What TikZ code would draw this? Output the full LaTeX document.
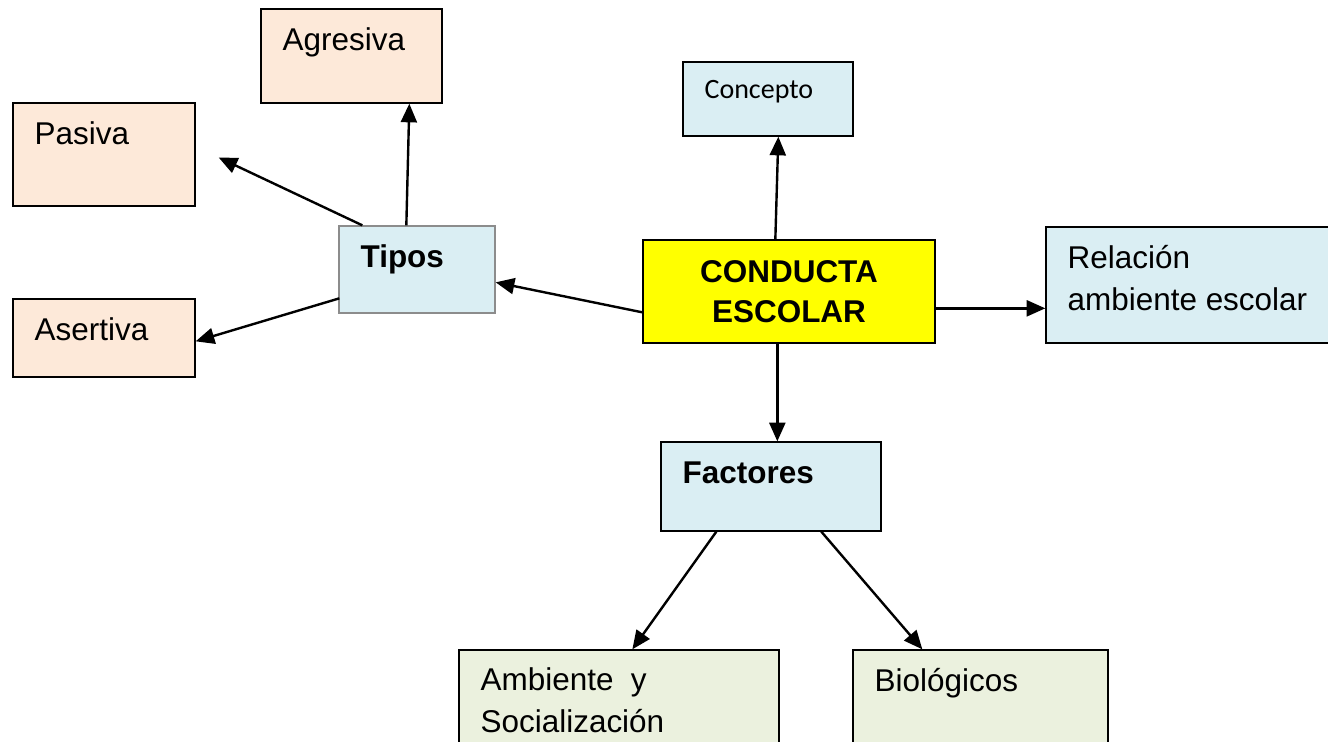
\documentclass[tikz,border=0pt]{standalone}
\usepackage{fontspec}
\setmainfont{Liberation Sans}
\newfontfamily\calibri{Carlito}
\usepackage{xcolor}
\usepackage{tikz}
\usetikzlibrary{arrows.meta}

\definecolor{boxPeach}{HTML}{FDE9D9}
\definecolor{boxBlue}{HTML}{DAEEF3}
\definecolor{boxGreen}{HTML}{EBF1DE}
\definecolor{boxYellow}{HTML}{FFFF00}

\begin{document}
\begin{tikzpicture}[x=0.75pt, y=-0.75pt,
		box/.style={draw, line width=1pt, inner sep=0pt},
		boxlabel/.style={inner sep=0pt, anchor=base west, align=left, font=\fontsize{23.6}{31.5}\selectfont}]
			\useasboundingbox (0,0) rectangle (1328,742);

			\def\padX{22};
			\def\padY{42};

			\newcommand{\drawBox}[6]
			{
				\node [box, #2, minimum width={(#5-#3)*0.75pt}, minimum height={(#6-#4)*0.75pt}] (#1) at ({(#3+#5)/2},{(#4+#6)/2}) {}
			}

			\newcommand{\boxText}[3][0]
			{
				\node [boxlabel] (#2 text) at ([shift={(\padX,\padY+#1)}]#2.north west) {#3}
			}

			\begin{scope}
				\drawBox{agresiva}{fill=boxPeach}{261}{9}{442}{103};
				\drawBox{pasiva}{fill=boxPeach}{13}{103}{195}{206};
				\drawBox{asertiva}{fill=boxPeach}{13}{299}{195}{377};
				\drawBox{tipos}{fill=boxBlue, draw=black!45}{339}{226}{495}{313};
				\drawBox{concepto}{fill=boxBlue}{683}{62}{853}{136};
				\drawBox{conducta}{fill=boxYellow}{643}{240}{935}{343};
				\drawBox{relacion}{fill=boxBlue}{1046}{227}{1370}{343};
				\drawBox{factores}{fill=boxBlue}{661}{442}{881}{531};
				\drawBox{ambiente}{fill=boxGreen}{459}{650}{779}{780};
				\drawBox{biologicos}{fill=boxGreen}{853}{650}{1108}{780};
			\end{scope}

			\begin{scope}
				\boxText{agresiva}{Agresiva};
				\boxText{pasiva}{Pasiva};
				\boxText{asertiva}{Asertiva};
				\boxText{tipos}{\textbf{Tipos}};
				\boxText[42]{relacion}{Relación\\ambiente escolar};
				\boxText{factores}{\textbf{Factores}};
				\boxText[41]{ambiente}{Ambiente\ \ y\\Socialización};
				\boxText{biologicos}{Biológicos};
				\node [inner sep=0pt, anchor=base west, font=\calibri\fontsize{21}{25}\selectfont] (concepto text) at ([shift={(\padX,37)}]concepto.north west) {Concepto};
				\node [align=center, inner sep=0pt, font=\bfseries\fontsize{23.6}{30}\selectfont] (conducta text) at (conducta.center) {CONDUCTA\\ESCOLAR};
			\end{scope}

			\coordinate (pasiva tip) at ([shift={(23,3)}]pasiva.east);

			\begin{scope}[-{Triangle[length=14pt, width=12pt]}, line width=1.8pt]
				\draw ([shift={(68,0)}]tipos.north west) -- ([shift={(149,0)}]agresiva.south west);
				\draw ([shift={(24,0)}]tipos.north west) -- (pasiva tip);
				\draw ([shift={(1,73)}]tipos.north west) -- ([shift={(0,43)}]asertiva.north east);
				\draw ([shift={(0,73)}]conducta.north west) -- ([shift={(0,57)}]tipos.north east);
				\draw ([shift={(133,0)}]conducta.north west) -- ([shift={(96,0)}]concepto.south west);
				\draw ([shift={(0,69)}]conducta.north east) -- ([shift={(0,82)}]relacion.north west);
				\draw ([shift={(135,0)}]conducta.south west) -- ([shift={(117,0)}]factores.north west);
				\draw ([shift={(56,0)}]factores.south west) -- ([shift={(174,0)}]ambiente.north west);
				\draw ([shift={(161,0)}]factores.south west) -- ([shift={(70,0)}]biologicos.north west);
			\end{scope}
		\end{tikzpicture}
\end{document}
